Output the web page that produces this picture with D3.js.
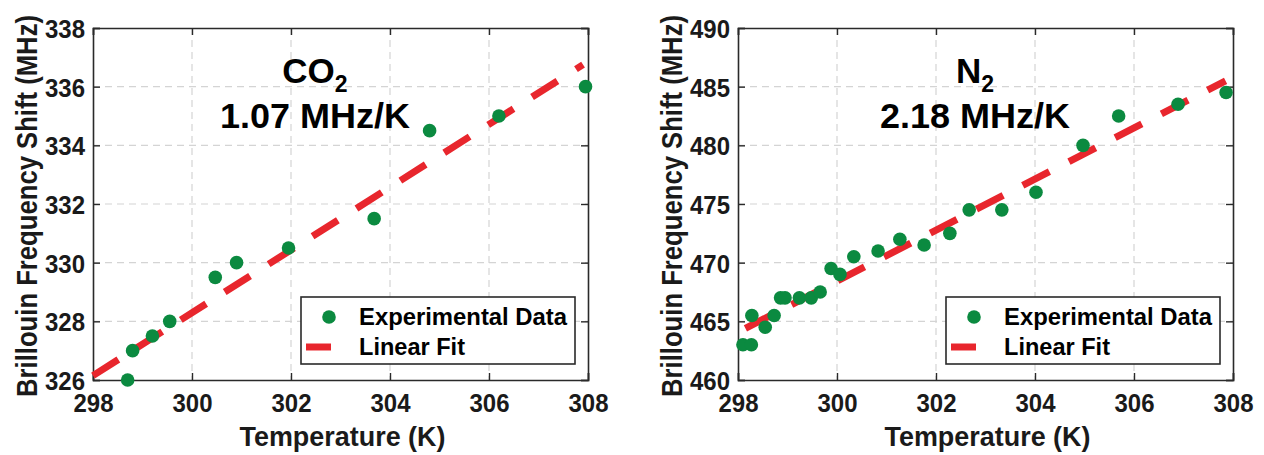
<!DOCTYPE html>
<html><head><meta charset="utf-8">
<script src="https://cdn.jsdelivr.net/npm/d3@7"></script>
<style>
html,body{margin:0;padding:0;background:#fff;}
text{font-family:"Liberation Sans",Arial,sans-serif;font-weight:bold;fill:#1a1a1a;}
</style></head>
<body><svg id="chart" width="1264" height="455"></svg>
<script>
// ---- data ----
const xTicks = [298, 300, 302, 304, 306, 308];
const co2YTicks = [326, 328, 330, 332, 334, 336, 338];
const n2YTicks = [460, 465, 470, 475, 480, 485, 490];

const co2Temp  = [298.7, 298.8, 299.2, 299.55, 300.47, 300.9, 301.95, 303.68, 304.8, 306.2, 307.95];
const co2Shift = [326.0, 327.0, 327.5, 328.0, 329.5, 330.0, 330.5, 331.5, 334.5, 335.0, 336.0];
const co2FitTemp  = [298.0, 307.9];
const co2FitShift = [326.15, 336.75];

const n2Temp  = [298.1, 298.27, 298.28, 298.55, 298.73, 298.86, 298.95, 299.24, 299.48, 299.66, 299.88, 300.06, 300.34, 300.83, 301.27, 301.76, 302.28, 302.67, 303.33, 304.02, 304.97, 305.69, 306.89, 307.86];
const n2Shift = [463.0, 463.0, 465.5, 464.5, 465.5, 467.0, 467.0, 467.0, 467.0, 467.5, 469.5, 469.0, 470.5, 471.0, 472.0, 471.5, 472.5, 474.5, 474.5, 476.0, 480.0, 482.5, 483.5, 484.5];
const n2FitTemp  = [298.15, 307.85];
const n2FitShift = [464.4, 485.5];

const gasLabels = ["CO", "N"];
const slopeLabels = ["1.07 MHz/K", "2.18 MHz/K"];
const legendLabels = ["Experimental Data", "Linear Fit"];
const xTitle = "Temperature (K)";
const yTitle = "Brillouin Frequency Shift (MHz)";

// ---- drawing ----
const svg = d3.select("#chart");
const GREEN = "#0b8a40", RED = "#e8262d", FRAME = "#2a2a2a";

function panel(ox, yDomain, yTicks, temps, shifts, fitT, fitS, gas, annX, slope) {
  const L = ox, R = ox + 495, T = 28, B = 380;
  const x = d3.scaleLinear().domain([298, 308]).range([L, R]);
  const y = d3.scaleLinear().domain(yDomain).range([B, T]);
  const g = svg.append("g");

  // grid
  g.append("g").selectAll("line").data(xTicks.slice(1, -1)).join("line")
    .attr("x1", d => x(d)).attr("x2", d => x(d)).attr("y1", T).attr("y2", B)
    .attr("stroke", "#d4d4d4").attr("stroke-width", 1.2).attr("stroke-dasharray", "7,5");
  g.append("g").selectAll("line").data(yTicks.slice(1, -1)).join("line")
    .attr("y1", d => y(d)).attr("y2", d => y(d)).attr("x1", L).attr("x2", R)
    .attr("stroke", "#d4d4d4").attr("stroke-width", 1.2).attr("stroke-dasharray", "7,5");

  // axes via d3 axis (inward ticks)
  const axB = d3.axisBottom(x).tickValues(xTicks).tickSize(-7).tickPadding(14).tickFormat(d3.format("d"));
  const axT = d3.axisTop(x).tickValues(xTicks).tickSize(-7).tickFormat("");
  const axL = d3.axisLeft(y).tickValues(yTicks).tickSize(-7).tickPadding(8).tickFormat(d3.format("d"));
  const axR = d3.axisRight(y).tickValues(yTicks).tickSize(-7).tickFormat("");
  const gb = g.append("g").attr("transform", `translate(0,${B})`).call(axB);
  const gt = g.append("g").attr("transform", `translate(0,${T})`).call(axT);
  const gl = g.append("g").attr("transform", `translate(${L},0)`).call(axL);
  const gr = g.append("g").attr("transform", `translate(${R},0)`).call(axR);
  [gb, gt, gl, gr].forEach(a => {
    a.select(".domain").attr("stroke", FRAME).attr("stroke-width", 1.6);
    a.selectAll(".tick line").attr("stroke", FRAME).attr("stroke-width", 1.4);
    a.selectAll(".tick text").attr("fill", "#1a1a1a").style("font-size", "26px")
      .style("font-family", '"Liberation Sans",Arial,sans-serif').style("font-weight", "bold")
      .attr("textLength", 40).attr("lengthAdjust", "spacingAndGlyphs");
  });
  gb.selectAll(".tick text").attr("dy", "0.71em");
  gl.selectAll(".tick text").attr("dy", "0.36em");

  // fit line
  const fitData = fitT.map((t, i) => [t, fitS[i]]);
  g.append("path").datum(fitData)
    .attr("d", d3.line().x(d => x(d[0])).y(d => y(d[1])))
    .attr("fill", "none").attr("stroke", RED).attr("stroke-width", 7)
    .attr("stroke-dasharray", "30,22");

  // points
  g.append("g").selectAll("circle").data(temps.map((t, i) => [t, shifts[i]])).join("circle")
    .attr("cx", d => x(d[0])).attr("cy", d => y(d[1])).attr("r", 6.8).attr("fill", GREEN);

  // annotation
  const ann = g.append("text").attr("x", annX).attr("y", 83).attr("text-anchor", "middle").style("font-size", "35px").style("fill", "#000");
  ann.append("tspan").text(gas);
  ann.append("tspan").attr("dy", 9).style("font-size", "23px").text("2");
  g.append("text").attr("x", annX).attr("y", 128).attr("text-anchor", "middle")
    .style("font-size", "35px").style("fill", "#000")
    .attr("textLength", 190).attr("lengthAdjust", "spacingAndGlyphs").text(slope);

  // legend
  const lx = L + 208, ly = 297;
  g.append("rect").attr("x", lx).attr("y", ly).attr("width", 274).attr("height", 67)
    .attr("fill", "#fff").attr("stroke", FRAME).attr("stroke-width", 1.6);
  g.append("circle").attr("cx", lx + 28).attr("cy", ly + 20).attr("r", 6.8).attr("fill", GREEN);
  g.append("line").attr("x1", lx + 5).attr("x2", lx + 30).attr("y1", ly + 50).attr("y2", ly + 50)
    .attr("stroke", RED).attr("stroke-width", 7);
  g.append("text").attr("x", lx + 58).attr("y", ly + 28).style("font-size", "23.5px").style("fill", "#000")
    .attr("textLength", 208).attr("lengthAdjust", "spacingAndGlyphs").text(legendLabels[0]);
  g.append("text").attr("x", lx + 58).attr("y", ly + 58).style("font-size", "23.5px").style("fill", "#000")
    .attr("textLength", 106).attr("lengthAdjust", "spacingAndGlyphs").text(legendLabels[1]);

  // axis titles
  g.append("text").attr("x", (L + R) / 2 + 2).attr("y", 446).attr("text-anchor", "middle")
    .style("font-size", "27px").attr("textLength", 206).attr("lengthAdjust", "spacingAndGlyphs").text(xTitle);
  g.append("text").attr("transform", `translate(${L - 56},206) rotate(-90) scale(1,1.13)`).attr("text-anchor", "middle")
    .style("font-size", "26px").attr("textLength", 382).attr("lengthAdjust", "spacingAndGlyphs").text(yTitle);
}

panel(93, [326, 338], co2YTicks, co2Temp, co2Shift, co2FitTemp, co2FitShift, gasLabels[0], 315, slopeLabels[0]);
panel(738, [460, 490], n2YTicks, n2Temp, n2Shift, n2FitTemp, n2FitShift, gasLabels[1], 975, slopeLabels[1]);
</script></body></html>
